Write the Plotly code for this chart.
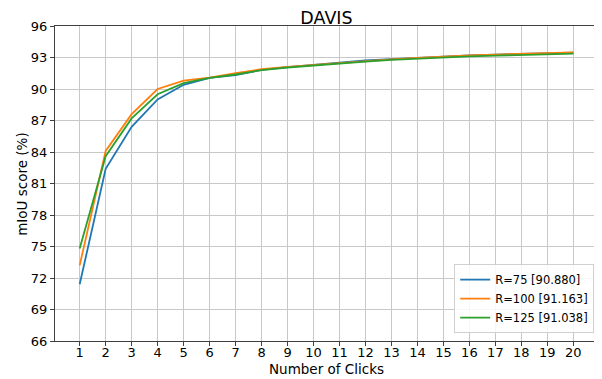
import plotly.graph_objects as go

clicks = list(range(1, 21))
r75 = [71.4, 82.4, 86.4, 89.0, 90.4, 91.05, 91.33, 91.82, 92.08, 92.3, 92.55, 92.72, 92.85, 92.98, 93.12, 93.2, 93.28, 93.34, 93.4, 93.47]
r100 = [73.2, 84.1, 87.6, 90.0, 90.8, 91.08, 91.5, 91.88, 92.1, 92.3, 92.5, 92.68, 92.83, 92.97, 93.1, 93.2, 93.28, 93.35, 93.42, 93.49]
r125 = [74.8, 83.6, 87.2, 89.5, 90.55, 91.05, 91.38, 91.8, 92.05, 92.25, 92.45, 92.6, 92.77, 92.9, 93.02, 93.1, 93.18, 93.25, 93.3, 93.36]
names = ["R=75 [90.880]", "R=100 [91.163]", "R=125 [91.038]"]
colors = ["#1f77b4", "#ff7f0e", "#2ca02c"]
y_ticks = list(range(66, 97, 3))

fig = go.Figure()
for name, ys, c in zip(names, [r75, r100, r125], colors):
    fig.add_trace(go.Scatter(x=clicks, y=ys, mode="lines", name=name,
                             line=dict(color=c, width=1.8)))

font = "DejaVu Sans"
tick_size = 13
# page body has an 8px margin, so the figure is made 8px smaller
fig.update_layout(
    width=594, height=371,
    margin=dict(l=47, r=4, t=18, b=38, autoexpand=False),
    paper_bgcolor="white", plot_bgcolor="white",
    font=dict(family=font, size=14, color="black"),
    title=dict(text="DAVIS", x=0.5, xanchor="center", xref="paper",
               y=1, yref="paper", yanchor="bottom", pad=dict(b=2),
               automargin=False,
               font=dict(size=17.5, family=font, color="black")),
    xaxis=dict(range=[0.05, 20.95], tickvals=clicks, showgrid=True,
               gridcolor="#c8c8c8", gridwidth=1, showline=True, mirror=True,
               linecolor="#404040", linewidth=1, ticks="outside", ticklen=4,
               tickcolor="#404040", zeroline=False, automargin=False,
               ticklabelstandoff=-5,
               tickfont=dict(size=tick_size)),
    yaxis=dict(range=[66, 96], tickvals=y_ticks, showgrid=True,
               gridcolor="#c8c8c8", gridwidth=1, showline=True, mirror=True,
               linecolor="#404040", linewidth=1, ticks="outside", ticklen=4,
               tickcolor="#404040", zeroline=False, automargin=False,
               tickfont=dict(size=tick_size)),
    legend=dict(x=0.993, y=0.025, xanchor="right", yanchor="bottom",
                bgcolor="rgba(255,255,255,0.85)", bordercolor="#d0d0d0",
                borderwidth=1, font=dict(size=11.5, family=font),
                tracegroupgap=0, itemwidth=30),
    showlegend=True,
    annotations=[
        dict(text="Number of Clicks", xref="paper", yref="paper",
             x=0.5, y=-0.09, xanchor="center", yanchor="middle",
             showarrow=False, font=dict(size=13.5, family=font, color="black")),
        dict(text="mIoU score (%)", xref="paper", yref="paper",
             x=-0.062, y=0.5, xanchor="center", yanchor="middle",
             textangle=-90, showarrow=False,
             font=dict(size=13.5, family=font, color="black")),
    ],
)

fig.write_html("out.html")
